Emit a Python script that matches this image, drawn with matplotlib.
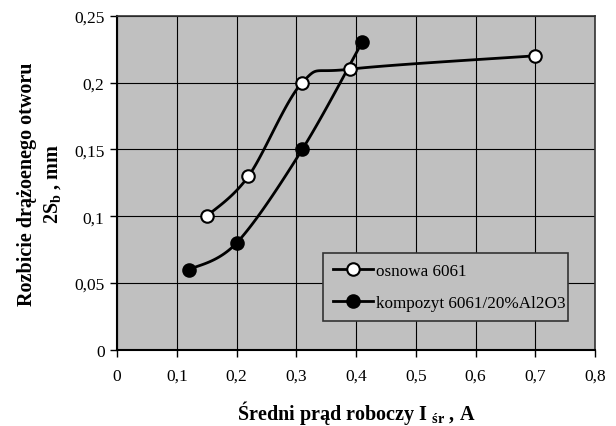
import numpy as np
import matplotlib
matplotlib.use("Agg")
import matplotlib.pyplot as plt
from matplotlib.ticker import FuncFormatter

plt.rcParams['font.family'] = ['Liberation Serif', 'DejaVu Serif']
plt.rcParams['mathtext.fontset'] = 'custom'
plt.rcParams['mathtext.rm'] = 'Liberation Serif'
plt.rcParams['mathtext.bf'] = 'Liberation Serif:bold'
plt.rcParams['mathtext.it'] = 'Liberation Serif:italic'

# data
x_osnowa = [0.15, 0.22, 0.31, 0.39, 0.70]
y_osnowa = [0.10, 0.13, 0.20, 0.21, 0.22]
x_komp = [0.12, 0.20, 0.31, 0.41]
y_komp = [0.06, 0.08, 0.15, 0.23]
x_ticks = [0, 0.1, 0.2, 0.3, 0.4, 0.5, 0.6, 0.7, 0.8]
y_ticks = [0, 0.05, 0.1, 0.15, 0.2, 0.25]


def smooth(xs, ys, n=30):
    # Excel-like smoothed line (Catmull-Rom as cubic Bezier)
    p = np.column_stack([xs, ys])
    p = np.vstack([p[0], p, p[-1]])
    out = []
    t = np.linspace(0, 1, n)[:, None]
    for i in range(1, len(p) - 2):
        p0, p1, p2, p3 = p[i - 1], p[i], p[i + 1], p[i + 2]
        c1 = p1 + (p2 - p0) / 6
        c2 = p2 - (p3 - p1) / 6
        seg = ((1 - t) ** 3) * p1 + 3 * ((1 - t) ** 2) * t * c1 + 3 * (1 - t) * t ** 2 * c2 + t ** 3 * p2
        out.append(seg)
    s = np.vstack(out)
    return s[:, 0], s[:, 1]


fig = plt.figure(figsize=(6.16, 4.27), dpi=100)
ax = fig.add_axes([0.190, 0.178, 0.776, 0.783])
ax.set_facecolor('#c0c0c0')

sx, sy = smooth(x_osnowa, y_osnowa)
ax.plot(sx, sy, color='black', lw=2, zorder=3)
sx, sy = smooth(x_komp, y_komp)
ax.plot(sx, sy, color='black', lw=2, zorder=3)
ax.plot(x_osnowa, y_osnowa, 'o', ms=9, mfc='white', mec='black', mew=1.5, zorder=4)
ax.plot(x_komp, y_komp, 'o', ms=9, mfc='black', mec='black', mew=1.5, zorder=4)

h1, = ax.plot([], [], '-o', color='black', lw=2, ms=9, mfc='white', mec='black', mew=1.5,
              label='osnowa 6061')
h2, = ax.plot([], [], '-o', color='black', lw=2, ms=9, mfc='black', mec='black', mew=1.5,
              label='kompozyt 6061/20%Al2O3')

ax.set_xlim(0, 0.8)
ax.set_ylim(0, 0.25)
ax.set_xticks(x_ticks)
ax.set_yticks(y_ticks)
fmt = FuncFormatter(lambda v, pos: f"{v:g}".replace('.', ','))
ax.xaxis.set_major_formatter(fmt)
ax.yaxis.set_major_formatter(fmt)
ax.grid(True, color='black', lw=0.8)
ax.set_axisbelow(True)
ax.tick_params(labelsize=12.5, length=5, width=1, direction='out', pad=8)
ax.tick_params(axis='y', pad=4)
for sp in ax.spines.values():
    sp.set_color('#333333')
    sp.set_linewidth(1.2)
ax.spines['left'].set_color('black')
ax.spines['bottom'].set_color('black')
ax.spines['left'].set_linewidth(1.5)
ax.spines['bottom'].set_linewidth(1.5)

ax.set_xlabel(r'Średni prąd roboczy I $_{\mathbf{śr}}$ , A', fontsize=14.5, fontweight='bold', labelpad=10)
ax.set_ylabel('Rozbicie drążoenego otworu\n' + r'2S$_\mathbf{b}$ , mm', fontsize=14.5, fontweight='bold',
              labelpad=8, linespacing=1.35)

leg = ax.legend(handles=[h1, h2], loc='lower left', bbox_to_anchor=(0.431, 0.087, 0.5125, 0.215),
                mode='expand', fontsize=12.3, frameon=True, fancybox=False, facecolor='#c0c0c0',
                edgecolor='#333333', framealpha=1, handlelength=2.3, handletextpad=0.2,
                borderpad=0.6, labelspacing=0.9, borderaxespad=0)
leg.get_frame().set_linewidth(1.2)

fig.savefig('out.png', dpi=100)
